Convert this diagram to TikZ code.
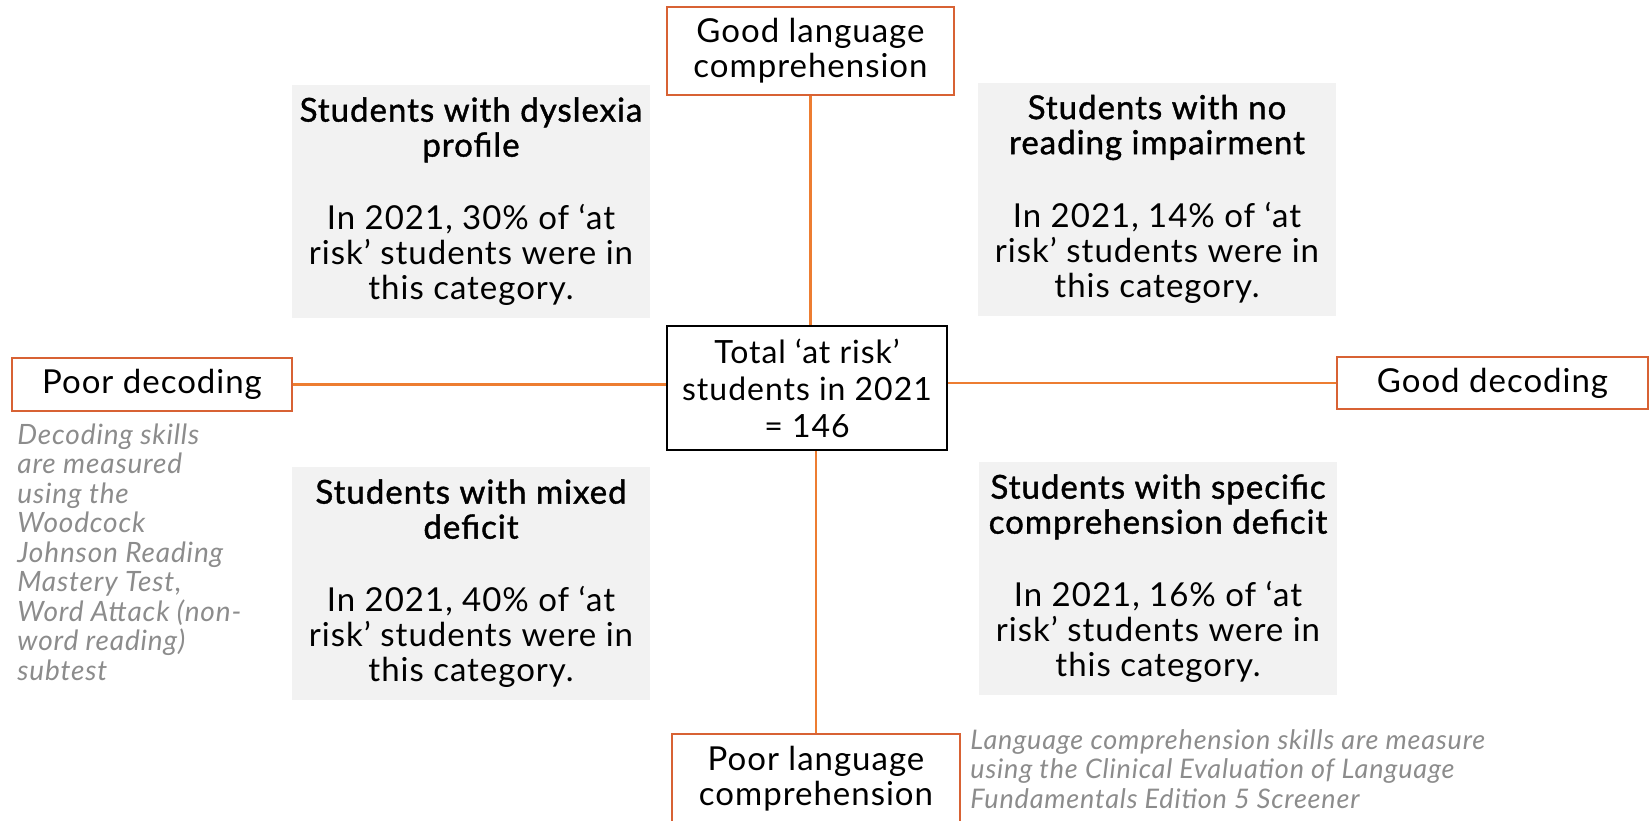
\documentclass[tikz,border=0pt]{standalone}
\usepackage{fontspec}
\setmainfont[LetterSpace=3]{Lato}
\newfontfamily\headfont[FakeBold=1.2,LetterSpace=3]{Lato}

\definecolor{axisorange}{RGB}{237,125,49}
\definecolor{boxorange}{RGB}{216,98,52}
\definecolor{panelgray}{RGB}{242,242,242}
\definecolor{notegray}{RGB}{140,140,140}

\tikzset{
  axisbox/.style={draw=boxorange, line width=1pt, fill=white, align=center, inner sep=0pt,
    font=\fontsize{16.5}{17.5}\selectfont},
  totalbox/.style={draw=black, line width=0.7pt, fill=white, align=center, inner sep=0pt,
    minimum width=140pt, minimum height=62pt, font=\fontsize{16}{18.5}\selectfont},
  panel/.style={fill=panelgray, align=center, inner sep=0pt, minimum width=179pt,
    minimum height=116.5pt, font=\fontsize{16.5}{17.5}\selectfont},
  note/.style={text=notegray, align=left, inner sep=0pt, font=\itshape\fontsize{14}{14.75}\selectfont},
  axisline/.style={draw=axisorange, line width=1.1pt}
}
\newcommand{\hd}{\headfont}

\begin{document}
\begin{tikzpicture}[x=0.5pt,y=-0.5pt]
\useasboundingbox (0,0) rectangle (1650,820);
\clip (0,0) rectangle (1650,820);

% quadrant panels
\node[panel] (dyslexia) at (471,201.5) {\hd Students with dyslexia\\\hd profile\\[19pt]In 2021, 30\% of ‘at\\risk’ students were in\\this category.};
\node[panel] (noimpair) at (1157,199) {\hd Students with no\\\hd reading impairment\\[19pt]In 2021, 14\% of ‘at\\risk’ students were in\\this category.};
\node[panel] (mixed) at (471,583.5) {\hd Students with mixed\\\hd deficit\\[19pt]In 2021, 40\% of ‘at\\risk’ students were in\\this category.};
\node[panel] (specific) at (1158,578.5) {\hd Students with specific\\\hd comprehension deficit\\[19pt]In 2021, 16\% of ‘at\\risk’ students were in\\this category.};

% axis end boxes
\node[axisbox, minimum width=143.5pt, minimum height=44pt] (goodlc) at (810.5,51) {Good language\\comprehension};
\node[axisbox, minimum width=144pt, anchor=north, inner ysep=6pt] (poorlc) at (816,733) {Poor language\\comprehension\rule[-18pt]{0pt}{0pt}};
\node[axisbox, minimum width=140pt, minimum height=26.5pt] (poordec) at (152,384.5) {Poor decoding};
\node[axisbox, minimum width=155.5pt, minimum height=26pt] (gooddec) at (1492.5,383) {Good decoding};

% centre
\node[totalbox] (total) at (807,388) {Total ‘at risk’\\students in 2021\\= 146};

% axes
\draw[axisline] (goodlc.south) -- (goodlc.south |- total.north);
\draw[axisline] (poorlc.north) -- (poorlc.north |- total.south);
\draw[axisline] (poordec.east) -- (poordec.east -| total.west);
\draw[axisline] (gooddec.west) -- (gooddec.west -| total.east);

% measurement notes
\node[note, anchor=north west] (decnote) at (17,423) {Decoding skills\\are measured\\using the\\Woodcock\\Johnson Reading\\Mastery Test,\\Word Attack (non-\\word reading)\\subtest};
\node[note, anchor=north west, font=\itshape\fontsize{13.5}{14.75}\selectfont] (lcnote) at (970,729) {Language comprehension skills are measure\\using the Clinical Evaluation of Language\\Fundamentals Edition 5 Screener};
\end{tikzpicture}
\end{document}
